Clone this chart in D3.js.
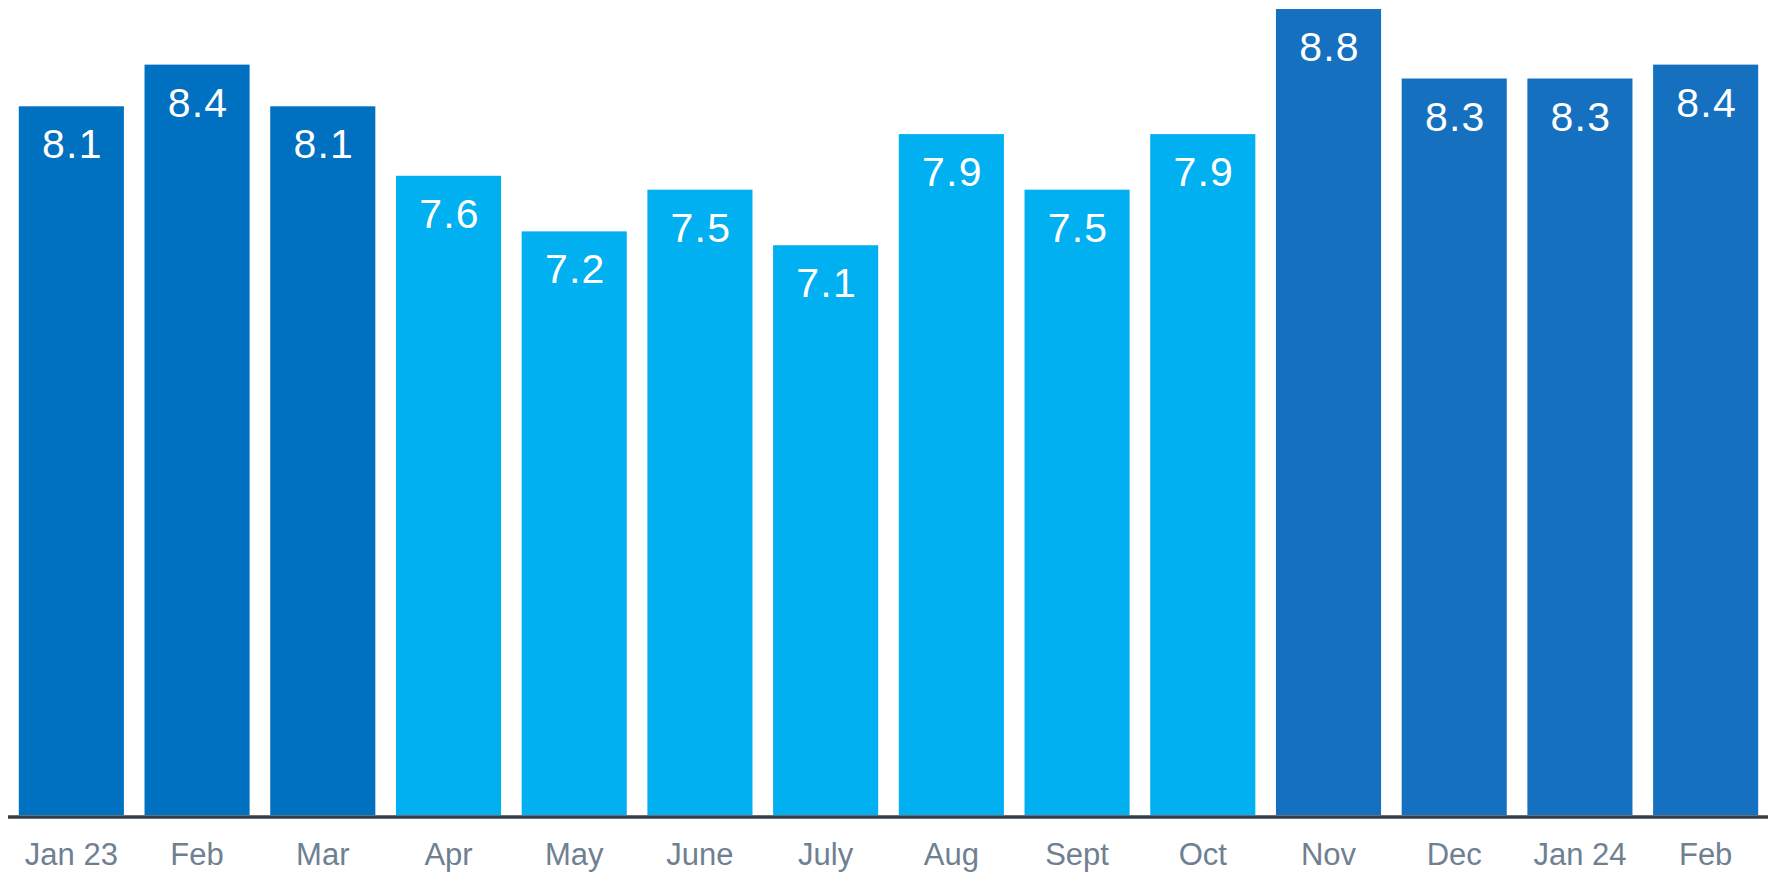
<!DOCTYPE html>
<html>
<head>
<meta charset="utf-8">
<script src="https://cdn.jsdelivr.net/npm/d3@7"></script>
<style>
  html, body { margin: 0; padding: 0; background: #ffffff; }
  svg { display: block; }
  text { font-family: "Liberation Sans", Arial, sans-serif; }
</style>
</head>
<body>
<svg id="chart" width="1773" height="872"></svg>
<script>
// ---- data ----
const categories = ["Jan 23", "Feb", "Mar", "Apr", "May", "June", "July", "Aug", "Sept", "Oct", "Nov", "Dec", "Jan 24", "Feb"];
const values = [8.1, 8.4, 8.1, 7.6, 7.2, 7.5, 7.1, 7.9, 7.5, 7.9, 8.8, 8.3, 8.3, 8.4];
const groups = ["g1", "g1", "g1", "g2", "g2", "g2", "g2", "g2", "g2", "g2", "g3", "g3", "g3", "g3"];
const valueLabels = values.map(v => v.toFixed(1));

// ---- layout ----
const W = 1773, H = 872;
const baseline = 815;
const svg = d3.select("#chart");

const ids = categories.map((c, i) => i);
const x = d3.scaleBand()
  .domain(ids)
  .range([8.5, 1768.5])
  .paddingInner(0.164)
  .paddingOuter(0.082);

const y = d3.scaleLinear()
  .domain([3, 8.865])
  .range([baseline, 0]);

const color = d3.scaleOrdinal()
  .domain(["g1", "g2", "g3"])
  .range(["#0070C0", "#00B0F0", "#1670C0"]);

// bars
svg.append("g")
  .selectAll("rect")
  .data(ids)
  .join("rect")
  .attr("x", i => x(i))
  .attr("y", i => y(values[i]))
  .attr("width", x.bandwidth())
  .attr("height", i => baseline - y(values[i]))
  .attr("fill", i => color(groups[i]));

// value labels
svg.append("g")
  .selectAll("text")
  .data(ids)
  .join("text")
  .attr("x", i => x(i) + x.bandwidth() / 2 + 1)
  .attr("y", i => y(values[i]) + 52)
  .attr("text-anchor", "middle")
  .attr("fill", "#ffffff")
  .attr("font-size", 41)
  .attr("letter-spacing", 1.2)
  .text(i => valueLabels[i]);

// x axis
const xAxis = d3.axisBottom(x)
  .tickSize(0)
  .tickPadding(0)
  .tickFormat(i => categories[i]);

const axisG = svg.append("g")
  .attr("transform", `translate(0,${baseline + 2})`)
  .call(xAxis);

axisG.select(".domain")
  .attr("stroke", "#353E47")
  .attr("stroke-width", 3.5)
  .attr("d", "M8,0H1768");

axisG.selectAll(".tick text")
  .attr("fill", "#6F8091")
  .attr("font-size", 31)
  .attr("font-family", "'Liberation Sans', Arial, sans-serif")
  .attr("dy", null)
  .attr("y", 865 - (baseline + 2));
</script>
</body>
</html>
